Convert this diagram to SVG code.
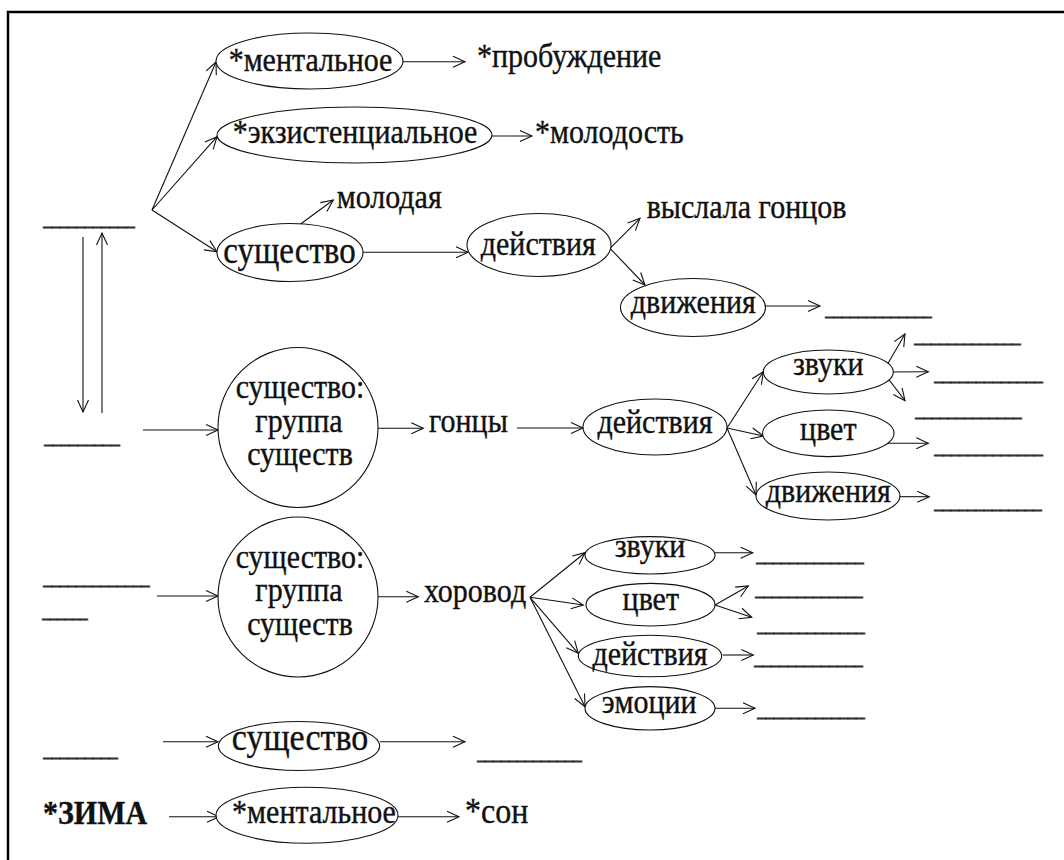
<svg xmlns="http://www.w3.org/2000/svg" width="1064" height="860" viewBox="0 0 1064 860">
<style>
.t{font-family:"Liberation Serif","Times New Roman",serif;font-size:30px;fill:#111;stroke:#111;stroke-width:0.35}
.m{text-anchor:middle}
.b{font-family:"Liberation Serif","Times New Roman",serif;font-size:16px;fill:#333;stroke:#333;stroke-width:1.1}
.n{fill:#fff;stroke:#111;stroke-width:1.1}
.c line{stroke:#111;stroke-width:1.1;marker-end:url(#ah)}
</style>
<defs>
<marker id="ah" markerUnits="userSpaceOnUse" markerWidth="14" markerHeight="14" refX="12" refY="6" orient="auto" overflow="visible">
<path d="M0,0.5 L12,6 L0,11.5" fill="none" stroke="#111" stroke-width="1.1"/>
</marker>
</defs>
<rect width="1064" height="860" fill="#fff"/>
<path d="M8,862 V12 H1066" fill="none" stroke="#000" stroke-width="2.5"/>

<g id="connectors" class="c">
<line x1="152" y1="210" x2="216" y2="62"/>
<line x1="152" y1="210" x2="217" y2="136.7"/>
<line x1="152" y1="210" x2="217" y2="251.7"/>
<line x1="403" y1="61.7" x2="465" y2="61.7"/>
<line x1="492" y1="136" x2="532" y2="136"/>
<line x1="290" y1="231.7" x2="333.3" y2="200"/>
<line x1="363" y1="252.3" x2="468" y2="252.3"/>
<line x1="610" y1="248.3" x2="640" y2="218.3"/>
<line x1="610" y1="248.3" x2="645" y2="285"/>
<line x1="766" y1="306" x2="820" y2="306"/>
<line x1="83" y1="237" x2="83" y2="412"/>
<line x1="102" y1="413" x2="102" y2="233"/>
<line x1="143" y1="430" x2="218" y2="430"/>
<line x1="378" y1="428.3" x2="423.3" y2="428.3"/>
<line x1="517" y1="428" x2="583" y2="428"/>
<line x1="727" y1="428" x2="763.3" y2="371.7"/>
<line x1="727" y1="428" x2="763.3" y2="436"/>
<line x1="727" y1="428" x2="756" y2="495"/>
<line x1="883" y1="372" x2="905" y2="334"/>
<line x1="883" y1="372" x2="928.3" y2="371.7"/>
<line x1="883" y1="372" x2="905" y2="400.7"/>
<line x1="888" y1="443.3" x2="928.3" y2="443.3"/>
<line x1="900" y1="496.7" x2="929.3" y2="496.7"/>
<line x1="157" y1="596" x2="218" y2="596"/>
<line x1="376.7" y1="596.7" x2="418.3" y2="596.7"/>
<line x1="530" y1="597.3" x2="585" y2="552.7"/>
<line x1="530" y1="597.3" x2="583.3" y2="605"/>
<line x1="530" y1="597.3" x2="578.3" y2="653.3"/>
<line x1="530" y1="597.3" x2="585" y2="706.7"/>
<line x1="715" y1="552.7" x2="752.7" y2="552.7"/>
<line x1="715" y1="605" x2="748.3" y2="586"/>
<line x1="715" y1="605" x2="751.7" y2="617.3"/>
<line x1="722.7" y1="655" x2="753.3" y2="655"/>
<line x1="715" y1="708.3" x2="755" y2="708.3"/>
<line x1="163" y1="741.7" x2="218" y2="741.7"/>
<line x1="380" y1="741.7" x2="465" y2="741.7"/>
<line x1="169" y1="816.7" x2="219" y2="816.7"/>
<line x1="398" y1="816.7" x2="459" y2="816.7"/>
</g>

<g id="blank-top-left"><text class="b" x="43.5" y="226.2" textLength="91" lengthAdjust="spacingAndGlyphs">___________</text></g>
<g id="mental-1"><ellipse class="n" cx="309.5" cy="61" rx="93.5" ry="28"/><text class="t m" transform="matrix(1 0 0 1.15 310.5 71)">*ментальное</text></g>
<g id="probuzhdenie"><text class="t" transform="matrix(1 0 0 1.15 477 67)">*пробуждение</text></g>
<g id="existential"><ellipse class="n" cx="354.5" cy="135" rx="137.5" ry="28"/><text class="t m" transform="matrix(1 0 0 1.15 355 143)">*экзистенциальное</text></g>
<g id="molodost"><text class="t" transform="matrix(1 0 0 1.15 535 143)">*молодость</text></g>
<g id="molodaya"><text class="t" transform="matrix(1 0 0 1.15 336.7 208)">молодая</text></g>
<g id="sushchestvo-1"><ellipse class="n" cx="290" cy="252.5" rx="73" ry="29"/><text class="t m" style="font-size:33px" transform="matrix(1 0 0 1.12 289.5 263)">существо</text></g>
<g id="deistviya-1"><ellipse class="n" cx="539" cy="245" rx="72" ry="31.5"/><text class="t m" transform="matrix(1 0 0 1.15 538.3 255)">действия</text></g>
<g id="vyslala"><text class="t" transform="matrix(1 0 0 1.15 646.7 218)">выслала гонцов</text></g>
<g id="dvizheniya-1"><ellipse class="n" cx="693" cy="307.5" rx="72.5" ry="29"/><text class="t m" transform="matrix(1 0 0 1.15 693.3 313.3)">движения</text></g>
<g id="blank-dv1"><text class="b" x="825.5" y="315.6" textLength="106" lengthAdjust="spacingAndGlyphs">_____________</text></g>

<g id="blank-row2-left"><text class="b" x="44.5" y="444.3" textLength="75" lengthAdjust="spacingAndGlyphs">_________</text></g>
<g id="group-1"><circle class="n" cx="298" cy="427.5" r="80"/>
<text class="t m" transform="matrix(1 0 0 1.15 300 398)">существо:</text>
<text class="t m" transform="matrix(1 0 0 1.15 299 431.7)">группа</text>
<text class="t m" transform="matrix(1 0 0 1.15 300 465)">существ</text></g>
<g id="gontsy"><text class="t" transform="matrix(1 0 0 1.15 429 431.7)">гонцы</text></g>
<g id="deistviya-2"><ellipse class="n" cx="655" cy="427" rx="72" ry="28"/><text class="t m" transform="matrix(1 0 0 1.15 655 433.3)">действия</text></g>
<g id="zvuki-1"><ellipse class="n" cx="828.3" cy="372" rx="65" ry="22"/><text class="t m" transform="matrix(1 0 0 1.15 828.3 375)">звуки</text></g>
<g id="tsvet-1"><ellipse class="n" cx="828.3" cy="433.3" rx="65.7" ry="23.3"/><text class="t m" transform="matrix(1 0 0 1.15 828.3 440)">цвет</text></g>
<g id="dvizheniya-2"><ellipse class="n" cx="828" cy="496" rx="72" ry="24"/><text class="t m" transform="matrix(1 0 0 1.15 828.3 501.7)">движения</text></g>
<g id="blanks-row2">
<text class="b" x="914.5" y="343.4" textLength="106" lengthAdjust="spacingAndGlyphs">_____________</text>
<text class="b" x="934.5" y="381.1" textLength="108" lengthAdjust="spacingAndGlyphs">_____________</text>
<text class="b" x="915.5" y="416.7" textLength="106" lengthAdjust="spacingAndGlyphs">_____________</text>
<text class="b" x="934.5" y="454.4" textLength="108" lengthAdjust="spacingAndGlyphs">_____________</text>
<text class="b" x="934.5" y="508.9" textLength="107" lengthAdjust="spacingAndGlyphs">_____________</text>
</g>

<g id="blank-row3-left"><text class="b" x="43.5" y="585.1" textLength="106" lengthAdjust="spacingAndGlyphs">_____________</text><text class="b" x="42.5" y="618.4" textLength="45" lengthAdjust="spacingAndGlyphs">______</text></g>
<g id="group-2"><circle class="n" cx="298" cy="597" r="80"/>
<text class="t m" transform="matrix(1 0 0 1.15 300 567.5)">существо:</text>
<text class="t m" transform="matrix(1 0 0 1.15 299 601.2)">группа</text>
<text class="t m" transform="matrix(1 0 0 1.15 300 634.5)">существ</text></g>
<g id="khorovod"><text class="t" transform="matrix(1 0 0 1.15 424 601.7)">хоровод</text></g>
<g id="zvuki-2"><ellipse class="n" cx="650" cy="555.3" rx="65" ry="18.7"/><text class="t m" transform="matrix(1 0 0 1.1 650 557)">звуки</text></g>
<g id="tsvet-2"><ellipse class="n" cx="650.5" cy="604.7" rx="64.5" ry="21.3"/><text class="t m" transform="matrix(1 0 0 1.1 650.8 610)">цвет</text></g>
<g id="deistviya-3"><ellipse class="n" cx="650" cy="656" rx="71.7" ry="20.8"/><text class="t m" transform="matrix(1 0 0 1.1 650 665)">действия</text></g>
<g id="emotsii"><ellipse class="n" cx="650" cy="708.3" rx="65" ry="21.7"/><text class="t m" transform="matrix(1 0 0 1.1 649.2 713.3)">эмоции</text></g>
<g id="blanks-row3">
<text class="b" x="756.5" y="561.7" textLength="107" lengthAdjust="spacingAndGlyphs">_____________</text>
<text class="b" x="755.5" y="596.1" textLength="107" lengthAdjust="spacingAndGlyphs">_____________</text>
<text class="b" x="757.5" y="631.7" textLength="107" lengthAdjust="spacingAndGlyphs">_____________</text>
<text class="b" x="754.5" y="665.1" textLength="108" lengthAdjust="spacingAndGlyphs">_____________</text>
<text class="b" x="757.5" y="716.7" textLength="107" lengthAdjust="spacingAndGlyphs">_____________</text>
</g>

<g id="blank-row4-left"><text class="b" x="43.5" y="756.7" textLength="74" lengthAdjust="spacingAndGlyphs">_________</text></g>
<g id="sushchestvo-2"><ellipse class="n" cx="299" cy="746" rx="80.6" ry="24.5"/><text class="t m" style="font-size:34px" transform="matrix(1 0 0 1.1 300 750)">существо</text></g>
<g id="blank-row4-right"><text class="b" x="477.5" y="760.1" textLength="104" lengthAdjust="spacingAndGlyphs">_____________</text></g>

<g id="zima"><text class="t" style="font-weight:bold" transform="matrix(1 0 0 1.12 43 824)">*ЗИМА</text></g>
<g id="mental-2"><ellipse class="n" cx="307" cy="815.3" rx="91" ry="28"/><text class="t m" transform="matrix(1 0 0 1.12 314 823)">*ментальное</text></g>
<g id="son"><text class="t" style="font-size:32px" transform="matrix(1 0 0 1.1 465 823)">*сон</text></g>
</svg>
